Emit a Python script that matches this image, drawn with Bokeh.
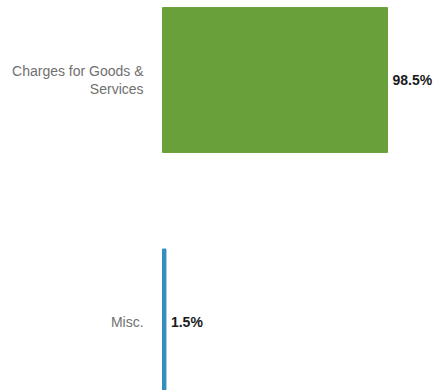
from bokeh.plotting import figure
from bokeh.models import ColumnDataSource, Range1d
from bokeh.core.properties import value
from bokeh.embed import file_html
from bokeh.resources import INLINE

categories = ["Charges for Goods &\nServices", "Misc."]
shares = [98.5, 1.5]
share_labels = ["98.5%", "1.5%"]
colors = ["#6aa03a", "#368cbe"]

idx = list(range(len(categories)))
src = ColumnDataSource(dict(
    y=idx, share=shares, zero=[0] * len(shares), label=share_labels,
    cat=categories, color=colors, catx=[-8.3] * len(shares),
))

p = figure(width=438, height=390, output_backend="svg", toolbar_location=None,
           x_range=Range1d(-70.92, 120.82), y_range=Range1d(1.2857, -0.3292),
           min_border=0)
p.axis.visible = False
p.grid.visible = False
p.outline_line_color = None
p.background_fill_color = "white"
p.border_fill_color = "white"

p.hbar(y="y", left="zero", right="share", height=0.6, color="color", source=src)
p.text(x="share", y="y", text="label", x_offset=5, text_align="left",
       text_baseline="middle", text_font=value("Liberation Sans"),
       text_font_style="bold", text_font_size="14px", text_color="#1a1a1a",
       source=src)
p.text(x="catx", y="y", text="cat", text_align="right", text_baseline="middle",
       text_font=value("Liberation Sans"), text_font_size="14px",
       text_color="#707070", text_line_height=1.15, source=src)

open("out.html", "w").write(file_html(p, INLINE))
